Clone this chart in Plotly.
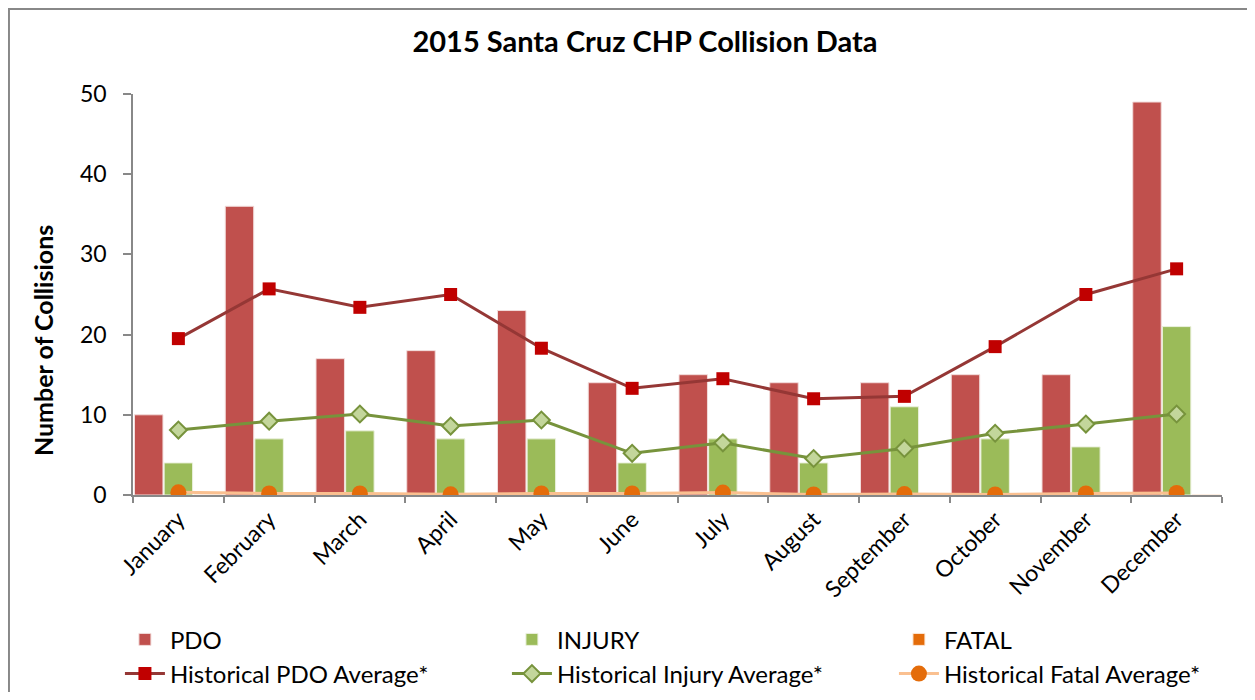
import plotly.graph_objects as go

# monthly collision counts, Santa Cruz 2015
months = ["January", "February", "March", "April", "May", "June", "July",
          "August", "September", "October", "November", "December"]
pdo = [10, 36, 17, 18, 23, 14, 15, 14, 14, 15, 15, 49]
injury = [4, 7, 8, 7, 7, 4, 7, 4, 11, 7, 6, 21]
fatal = [0, 0, 0, 0, 0, 0, 0, 0, 0, 0, 0, 0]

# historical averages
hist_pdo = [19.5, 25.7, 23.4, 25.0, 18.3, 13.3, 14.5, 12.0, 12.3, 18.5, 25.0, 28.2]
hist_injury = [8.1, 9.2, 10.1, 8.6, 9.35, 5.2, 6.5, 4.55, 5.8, 7.7, 8.85, 10.1]
hist_fatal = [0.33, 0.2, 0.2, 0.08, 0.2, 0.2, 0.3, 0.06, 0.12, 0.06, 0.2, 0.25]

FONT = "Lato"

fig = go.Figure()
fig.add_trace(go.Bar(x=months, y=pdo, name="PDO", marker_color="#C0504D",
                     marker_line=dict(color="#F2DCDB", width=1)))
fig.add_trace(go.Bar(x=months, y=injury, name="INJURY", marker_color="#9BBB59",
                     marker_line=dict(color="#EBF1DE", width=1)))
fig.add_trace(go.Bar(x=months, y=fatal, name="FATAL", marker_color="#E46C0A",
                     marker_line=dict(color="#FDE9D9", width=1)))

fig.add_trace(go.Scatter(x=months, y=hist_pdo, name="Historical PDO Average*",
                         mode="lines+markers",
                         line=dict(color="#953735", width=3),
                         marker=dict(symbol="square", size=13, color="#C00000")))
fig.add_trace(go.Scatter(x=months, y=hist_injury, name="Historical Injury Average*",
                         mode="lines+markers",
                         line=dict(color="#77933C", width=3),
                         marker=dict(symbol="diamond", size=13, color="#C3D69B",
                                     line=dict(color="#77933C", width=2))))
fig.add_trace(go.Scatter(x=months, y=hist_fatal, name="Historical Fatal Average*",
                         mode="lines+markers",
                         line=dict(color="#FAC090", width=3),
                         marker=dict(symbol="circle", size=16, color="#E46C0A")))

# page body has an 8px margin, so the figure is a bit smaller than the window
fig.update_layout(
    width=1247, height=684,
    margin=dict(l=125, r=33, t=86, b=197, autoexpand=False),
    paper_bgcolor="white", plot_bgcolor="white",
    font=dict(family=FONT, size=23, color="black"),
    title=dict(text="<b>2015 Santa Cruz CHP Collision Data</b>",
               font=dict(family=FONT, size=29, color="black"),
               x=0.5108, xanchor="center", y=0.950, yanchor="middle"),
    barmode="group", bargap=0.02, bargroupgap=0.04,
    showlegend=True,
    legend=dict(orientation="h", x=-0.012, xanchor="left", y=-0.305, yanchor="top",
                entrywidth=332, entrywidthmode="pixels",
                bgcolor="rgba(0,0,0,0)",
                font=dict(family=FONT, size=24, color="black"),
                itemwidth=40, tracegroupgap=0, traceorder="normal"),
    shapes=[dict(type="rect", xref="paper", yref="paper",
                 x0=-0.1139, x1=1.0285, y0=-0.6, y1=1.212,
                 line=dict(color="#888888", width=2), layer="below")],
    annotations=[dict(text="<b>Number of Collisions</b>", textangle=-90,
                      xref="paper", yref="paper", x=-0.0826, y=0.384,
                      xanchor="center", yanchor="middle", showarrow=False,
                      font=dict(family=FONT, size=25, color="black"))],
)

fig.update_xaxes(range=[-0.5, 11.5], showline=True, linecolor="#888888", linewidth=2,
                 ticks="outside", tickcolor="#888888", ticklen=6, tickwidth=2,
                 tickson="boundaries", tickangle=-45,
                 tickfont=dict(family=FONT, size=23, color="black"),
                 showgrid=False)
fig.update_yaxes(range=[0, 50], dtick=10, showline=True, linecolor="#888888", linewidth=2,
                 ticks="outside", tickcolor="#888888", ticklen=8, tickwidth=2,
                 ticksuffix="\u00a0\u00a0",
                 tickfont=dict(family=FONT, size=23, color="black"),
                 showgrid=False, zeroline=False)

fig.write_html("out.html")
